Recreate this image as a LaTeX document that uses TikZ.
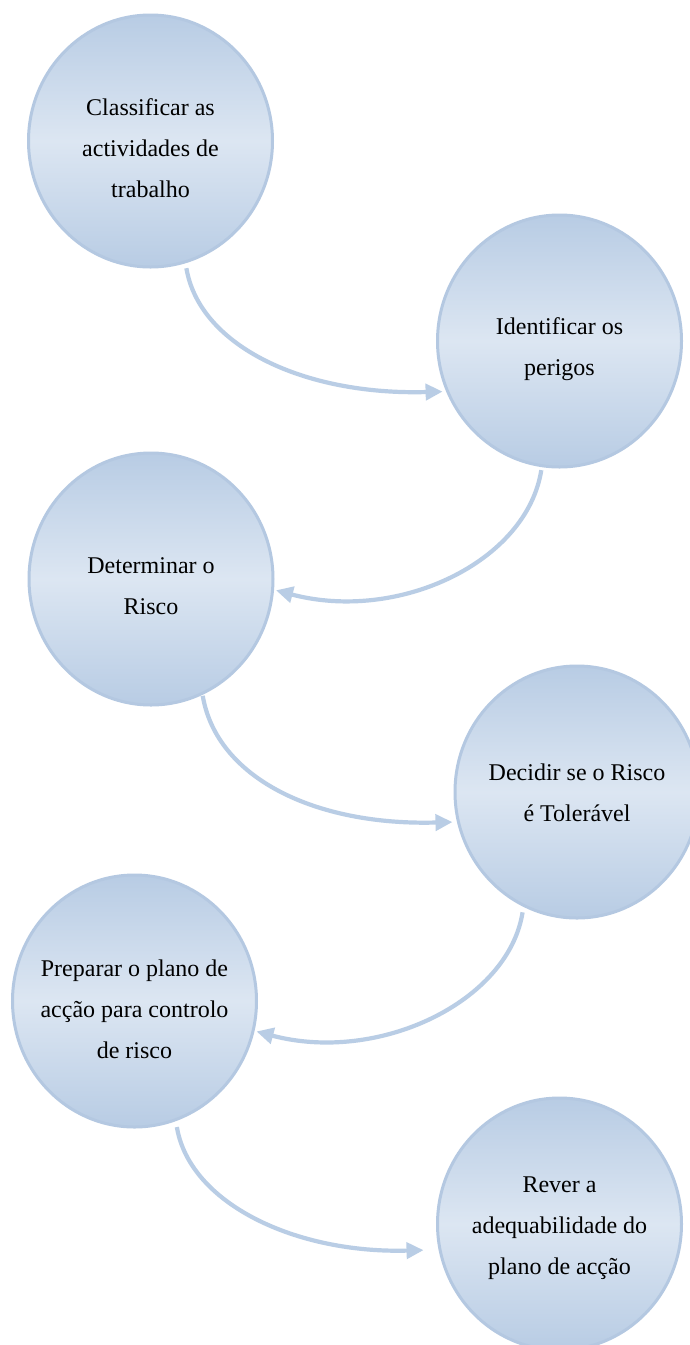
\documentclass[tikz,border=0pt]{standalone}
\usepackage{fontspec}
\setmainfont{Liberation Serif}
\usetikzlibrary{shapes.geometric,arrows.meta}
\definecolor{edgeblue}{HTML}{B4C8E1}
\definecolor{topblue}{HTML}{B8CCE4}
\definecolor{midblue}{HTML}{DCE6F2}
\definecolor{linkblue}{HTML}{B9CDE5}
\tikzset{
  stepcircle/.style={ellipse, draw=edgeblue, line width=3pt,
    top color=topblue, bottom color=topblue, middle color=midblue,
    minimum width=244pt, minimum height=252pt, inner sep=0pt},
  steptext/.style={align=center, inner sep=0pt, font=\fontsize{24}{41}\selectfont, text=black},
  link/.style={draw=linkblue, line width=4.2pt, -{Triangle[length=17pt,width=16pt]}}
}
\begin{document}
\begin{tikzpicture}[x=1pt,y=-1pt]
  \fill[white] (0,0) rectangle (690,1345);
  \useasboundingbox (0,0) rectangle (690,1345);
  \node[stepcircle] (c1) at (150.5,141) {};
  \node[stepcircle] (c2) at (559.5,341) {};
  \node[stepcircle] (c3) at (151,579) {};
  \node[stepcircle] (c4) at (577,792) {};
  \node[stepcircle] (c5) at (134.5,1001) {};
  \node[stepcircle] (c6) at (559.5,1224) {};
  \node[steptext] (t1) at ([yshift=-7pt]c1.center) {Classificar as\\actividades de\\trabalho};
  \node[steptext] (t2) at ([yshift=-8pt]c2.center) {Identificar os\\perigos};
  \node[steptext] (t3) at ([yshift=-7pt]c3.center) {Determinar o\\Risco};
  \node[steptext] (t4) at ([yshift=-1pt]c4.center) {Decidir se o Risco\\é Tolerável};
  \node[steptext] (t5) at ([yshift=-8pt]c5.center) {Preparar o plano de\\acção para controlo\\de risco};
  \node[steptext] (t6) at ([yshift=-4pt]c6.center) {Rever a\\adequabilidade do\\plano de acção};
  \draw[link, shorten <=5pt, shorten >=3.5pt] (c1.-74.3) .. controls +(14,83) and +(-142,4) .. (c2.-156.9);
  \draw[link, shorten <=3pt, shorten >=2pt] (c2.-98.6) .. controls +(-15,95) and +(124,33) .. (c3.-5.9);
  \draw[link, shorten <=1pt, shorten >=4.5pt] (c3.-66) .. controls +(14,83) and +(-142,4) .. (c4.-166.9);
  \draw[link, shorten <=5.5pt, shorten >=2pt] (c4.-115) .. controls +(-15,95) and +(124,33) .. (c5.-14.2);
  \draw[link, shorten <=6pt, shorten >=15pt] (c5.-71.9) .. controls +(14,83) and +(-142,4) .. (c6.-168);
\end{tikzpicture}
\end{document}
